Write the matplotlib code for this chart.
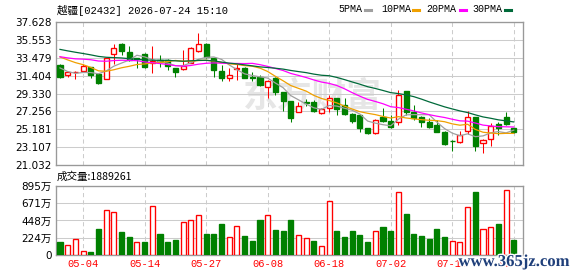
import numpy as np
import matplotlib
matplotlib.use("Agg")
import matplotlib.pyplot as plt
from matplotlib.patches import Rectangle
from matplotlib.lines import Line2D
import matplotlib.patheffects as pe

# 日线数据 (60 个交易日, 截至 2026-07-24)
opens = [32.6, 31.45, 31.8, 31.95, 32.35, 31.55, 31.05, 33.95, 35.1, 34.2,
         33.45, 33.95, 32.9, 33.25, 33.25, 32.25, 32.2, 32.9, 34.3, 35.1,
         33.45, 31.95, 31.15, 32.15, 32.3, 31.25, 31.2, 30.1, 31.15, 29.45,
         28.45, 27.2, 28.35, 28.3, 27.1, 27.65, 28.75, 28.0, 27.0, 26.8,
         25.3, 24.7, 26.6, 26.1, 26.05, 29.6, 27.2, 26.6, 26.05, 25.65,
         24.9, 23.85, 23.75, 25.0, 26.55, 23.55, 24.0, 25.75, 26.65, 25.3]
highs = [32.7, 31.85, 31.9, 32.8, 32.4, 31.6, 33.45, 35.1, 35.15, 34.8,
         33.5, 34.0, 34.8, 33.75, 33.3, 32.3, 34.35, 34.7, 36.35, 35.15,
         33.5, 32.6, 32.3, 32.9, 32.4, 31.85, 31.45, 30.85, 31.2, 29.5,
         28.5, 28.3, 28.7, 28.55, 27.7, 29.2, 28.8, 28.75, 27.1, 26.85,
         25.3, 26.4, 27.6, 26.8, 29.7, 29.65, 28.0, 26.7, 26.5, 26.2,
         25.0, 23.9, 24.97, 27.3, 26.6, 24.0, 25.85, 26.0, 27.2, 25.35]
lows = [31.1, 31.25, 31.05, 31.9, 31.15, 30.45, 31.0, 32.8, 33.75, 33.1,
        32.25, 32.3, 31.7, 32.45, 32.0, 31.2, 32.0, 32.85, 34.15, 33.5,
        31.25, 30.75, 30.75, 30.95, 31.1, 30.8, 30.25, 28.75, 29.2, 27.3,
        26.05, 27.15, 27.9, 27.15, 26.9, 27.2, 26.8, 26.8, 25.9, 24.9,
        24.6, 24.65, 26.05, 25.3, 25.65, 26.85, 26.25, 25.45, 25.3, 24.85,
        23.35, 22.65, 23.6, 24.6, 22.65, 22.45, 23.2, 24.5, 25.7, 24.8]
closes = [31.2, 31.8, 31.85, 32.5, 31.45, 30.5, 33.4, 34.65, 34.3, 33.2,
          33.3, 32.45, 33.1, 32.95, 32.5, 31.8, 32.5, 34.65, 35.05, 33.6,
          32.05, 31.1, 31.45, 32.3, 31.15, 31.1, 30.3, 30.75, 29.45, 28.45,
          26.5, 27.85, 28.25, 27.3, 27.55, 28.75, 27.5, 27.0, 26.1, 25.35,
          24.7, 26.3, 26.1, 25.45, 29.2, 27.2, 26.45, 26.05, 25.45, 24.9,
          23.45, 23.8, 24.55, 26.55, 23.25, 23.9, 25.55, 25.3, 25.8, 24.85]
# 图外之前 29 日收盘 (估计值, 用于均线)
prior_closes = [37.0, 36.6, 36.9, 36.2, 35.8, 36.4, 35.9, 35.5, 35.8, 35.4,
                34.6, 34.0, 33.2, 32.8, 33.5, 33.9, 33.1, 33.6, 33.4, 34.2,
                35.2, 35.0, 34.9, 34.6, 34.5,
                33.9, 32.9, 32.0, 31.5]
# 成交量 (万股)
volumes = [175, 131, 205, 52, 44, 341, 589, 563, 293, 227,
           170, 175, 642, 266, 175, 201, 432, 458, 524, 266,
           266, 397, 236, 380, 240, 188, 458, 524, 319, 306,
           458, 262, 218, 183, 118, 694, 306, 227, 314, 262,
           170, 314, 358, 314, 821, 528, 275, 249, 210, 341,
           236, 183, 170, 629, 816, 336, 367, 397, 838, 188.9261]
date_ticks = [3, 11, 19, 27, 35, 43, 51, 59]
date_labels = ["05-04", "05-14", "05-27", "06-08", "06-18", "07-02", "07-14", "07-24"]
price_ticks = [21.032, 23.107, 25.181, 27.256, 29.330, 31.404, 33.479, 35.553, 37.628]
vol_ticks = [0, 224, 448, 671, 895]
ma_periods = [5, 10, 20, 30]
ma_colors = ["#a0a0a0", "#f0a000", "#ff00ff", "#006a3a"]

RED = "#ff0000"
GREEN = "#008000"
W, H = 578, 276
LW = 0.75

def fx(x):
    return x / W

def fy(y):
    return 1 - y / H

fig = plt.figure(figsize=(W / 100, H / 100), dpi=100)
ax = fig.add_axes([fx(56), fy(165), fx(467), 143 / H])
axv = fig.add_axes([fx(56), fy(255), fx(467), 69 / H])

n = len(closes)
x = np.arange(n)
o = np.array(opens)
c = np.array(closes)
hi = np.array(highs)
lo = np.array(lows)
all_c = np.array(prior_closes + closes)
np_ = len(prior_closes)

# K线
bw = 0.66
for i in range(n):
    up = c[i] >= o[i]
    col = RED if up else GREEN
    ax.vlines(x[i], lo[i], hi[i], color=col, lw=LW, zorder=3)
    bottom = min(o[i], c[i])
    h = max(abs(c[i] - o[i]), 0.04)
    ax.add_patch(Rectangle((x[i] - bw / 2, bottom), bw, h,
                           facecolor="white" if up else GREEN,
                           edgecolor=col, lw=LW * 1.3, zorder=4))

# 均线
for per, colr in zip(ma_periods, ma_colors):
    ma = [all_c[np_ + i - per + 1: np_ + i + 1].mean() for i in range(n)]
    ax.plot(x, ma, color=colr, lw=LW * 1.2, zorder=5)

# 成交量 (颜色按涨跌)
prev = all_c[np_ - 1: np_ - 1 + n]
vup = c >= prev
axv.bar(x, volumes, width=bw, color=np.where(vup, "white", GREEN),
        edgecolor=np.where(vup, RED, GREEN), lw=LW * 1.3, zorder=3)

for a in (ax, axv):
    a.set_xlim(-0.52, 60.2)
    a.set_axisbelow(True)
    for s in a.spines.values():
        s.set_color("#999999")
        s.set_linewidth(LW * 1.3)
    a.tick_params(length=0, labelsize=7.5, pad=3)
    a.set_xticks(date_ticks)
    a.grid(axis="x", color="#cccccc", ls=(0, (4, 3)), lw=LW)
    a.grid(axis="y", color="#cccccc", ls="-", lw=LW)

ax.set_ylim(price_ticks[0], price_ticks[-1])
ax.set_yticks(price_ticks)
ax.set_yticklabels(["%.3f" % t for t in price_ticks])
ax.set_xticklabels([])

axv.set_ylim(0, vol_ticks[-1])
axv.set_yticks(vol_ticks)
axv.set_yticklabels(["0"] + ["%d万" % t for t in vol_ticks[1:]],
                    family=["DejaVu Sans", "Noto Sans CJK SC"])
axv.set_xticklabels(date_labels, color=RED, family="Liberation Mono", fontsize=7.5)

# 水印
ax.text(fx(312), fy(96), "东方财富", transform=fig.transFigure, ha="center", va="center",
        fontsize=25, color="#e6e6e6", family="Noto Sans CJK SC", fontweight="bold", zorder=0.2)

# 标题与图例
fig.text(fx(57), fy(10), "越疆[02432] 2026-07-24 15:10", ha="left", va="center",
         fontsize=7.6, family=["Liberation Mono", "Noto Sans CJK SC"])
leg_x = [338, 381, 426, 472]
dash_x = [365, 413, 460, 505]
for per, colr, lx, dx in zip(ma_periods, ma_colors, leg_x, dash_x):
    fig.text(fx(lx), fy(9), "%dPMA" % per, ha="left", va="center",
             fontsize=7.2, family="Liberation Mono")
    fig.add_artist(Line2D([fx(dx), fx(dx + 6)], [fy(10), fy(10)], color=colr, lw=2.2,
                          transform=fig.transFigure))

fig.text(fx(57), fy(177), "成交量:%d" % round(volumes[-1] * 1e4), ha="left", va="center",
         fontsize=7.6, family=["Noto Sans CJK SC", "Liberation Mono"])

fig.text(fx(514), fy(262), "www.365jz.com", ha="center", va="center", fontsize=12,
         color="#1f3f7a", family="Liberation Serif", fontweight="bold",
         path_effects=[pe.withStroke(linewidth=2, foreground="white")])

fig.savefig("out.png", dpi=100)
